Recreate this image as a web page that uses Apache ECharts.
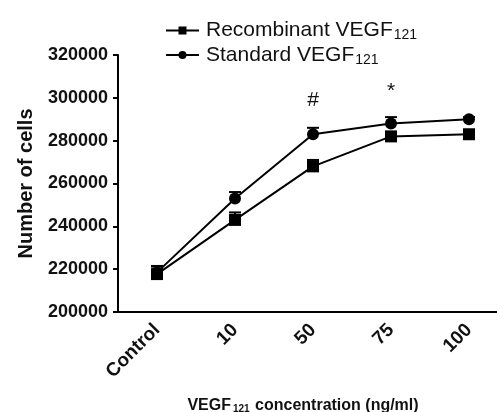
<!DOCTYPE html>
<html><head><meta charset="utf-8">
<script src="https://cdn.jsdelivr.net/npm/echarts@6/dist/echarts.min.js"></script>
<style>html,body{margin:0;padding:0;background:#fff}#c{width:497px;height:412px}</style>
</head><body><div id="c"></div>
<script>
const categories = ['Control', '10', '50', '75', '100'];
const recombinant = [217700, 243000, 268000, 282000, 283000];
const recombinantErr = [3500, 3500, 3000, 1500, 2000];
const standard = [218500, 253000, 283000, 288000, 290000];
const standardErr = [3000, 3000, 3000, 3000, 1000];
const yTicks = { min: 200000, max: 320000, step: 20000 };
const marks = [{ cat: '50', value: 299000, text: '#' }, { cat: '75', value: 303000, text: '*' }];

const F = 'Liberation Sans, Arial, sans-serif';
const chart = echarts.init(document.getElementById('c'));

function errSeries(vals, errs) {
  return {
    type: 'custom', silent: true, z: 1,
    data: vals.map((v, i) => [i, v, v + errs[i]]),
    renderItem: function (params, api) {
      const lo = api.coord([api.value(0), api.value(1)]);
      const hi = api.coord([api.value(0), api.value(2)]);
      const w = 6;
      return { type: 'group', children: [
        { type: 'line', shape: { x1: lo[0], y1: lo[1], x2: hi[0], y2: hi[1] }, style: { stroke: '#000', lineWidth: 2 } },
        { type: 'line', shape: { x1: hi[0] - w, y1: hi[1], x2: hi[0] + w, y2: hi[1] }, style: { stroke: '#000', lineWidth: 2 } }
      ]};
    }
  };
}

chart.setOption({
  animation: false,
  grid: { left: 118, top: 55, height: 257, width: 390, containLabel: false, outerBoundsMode: 'none' },
  legend: {
    orient: 'vertical', left: 160, top: 15, itemGap: 2,
    itemWidth: 33, itemHeight: 10,
    data: ['Recombinant', 'Standard'],
    formatter: n => '{n|' + n + ' VEGF}{s|121}',
    textStyle: {
      rich: {
        n: { fontFamily: F, fontSize: 21, color: '#111', padding: [0, 0, 0, 2] },
        s: { fontFamily: F, fontSize: 14, color: '#111', verticalAlign: 'bottom', padding: [10, 0, 0, 1] }
      }
    }
  },
  xAxis: {
    type: 'category', data: categories, boundaryGap: true,
    axisLine: { lineStyle: { color: '#000', width: 2 } },
    axisTick: { alignWithLabel: true, length: 7, lineStyle: { color: '#000', width: 2 } },
    axisLabel: { rotate: 45, margin: 15, fontFamily: F, fontWeight: 'bold', fontSize: 19, color: '#111' },
    name: '{n|VEGF}{s|121}{n| concentration (ng/ml)}',
    nameLocation: 'middle', nameGap: 86,
    nameTextStyle: {
      padding: [0, 20, 0, 0],
      rich: {
        n: { fontFamily: F, fontWeight: 'bold', fontSize: 16, color: '#111' },
        s: { fontFamily: F, fontWeight: 'bold', fontSize: 10, color: '#111', verticalAlign: 'bottom', padding: [5, 1, 0, 2] }
      }
    }
  },
  yAxis: {
    type: 'value', min: yTicks.min, max: yTicks.max, interval: yTicks.step,
    splitLine: { show: false },
    axisLine: { show: true, lineStyle: { color: '#000', width: 2 } },
    axisTick: { show: true, length: 5, lineStyle: { color: '#000', width: 2 } },
    axisLabel: { margin: 10, formatter: v => String(v), fontFamily: F, fontWeight: 'bold', fontSize: 18, color: '#111' },
    name: 'Number of cells', nameLocation: 'middle', nameGap: 82,
    nameTextStyle: { fontFamily: F, fontWeight: 'bold', fontSize: 20, color: '#111' }
  },
  series: [
    errSeries(recombinant, recombinantErr),
    errSeries(standard, standardErr),
    {
      name: 'Recombinant', type: 'line', data: recombinant, z: 3,
      symbol: 'rect', symbolSize: 12, showSymbol: true,
      lineStyle: { color: '#000', width: 2 }, itemStyle: { color: '#000' }
    },
    {
      name: 'Standard', type: 'line', data: standard, z: 3,
      symbol: 'circle', symbolSize: 12, showSymbol: true,
      lineStyle: { color: '#000', width: 2 }, itemStyle: { color: '#000' },
      markPoint: {
        symbol: 'circle', symbolSize: 0,
        label: { show: true, position: 'inside', fontFamily: F, fontSize: 21, color: '#111', formatter: p => p.name },
        data: marks.map(m => ({ name: m.text, coord: [m.cat, m.value] }))
      }
    }
  ]
});
</script></body></html>
